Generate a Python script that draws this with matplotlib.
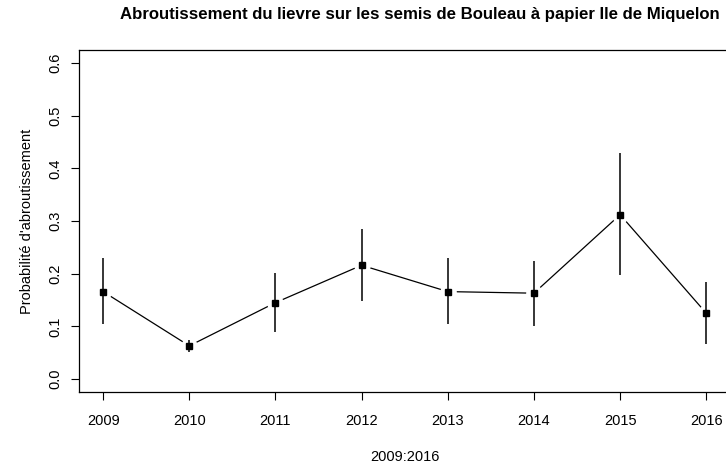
import matplotlib
matplotlib.use("Agg")
import matplotlib.pyplot as plt

# Estimated values
years = [2009, 2010, 2011, 2012, 2013, 2014, 2015, 2016]
prob = [0.166, 0.063, 0.145, 0.216, 0.166, 0.163, 0.312, 0.125]
lower = [0.104, 0.052, 0.090, 0.149, 0.104, 0.101, 0.197, 0.067]
upper = [0.230, 0.075, 0.202, 0.285, 0.230, 0.225, 0.429, 0.184]
yticks = [0.0, 0.1, 0.2, 0.3, 0.4, 0.5, 0.6]

plt.rcParams['font.family'] = ['Liberation Sans', 'DejaVu Sans']

fig = plt.figure(figsize=(7.26, 4.63), dpi=100)
# plot region runs a bit past the right edge, as in the original
ax = fig.add_axes([79 / 726, 1 - 391.7 / 463, 651.4 / 726, 341.4 / 463])

# type="b" style: line with gaps round the points
ax.plot(years, prob, color="black", lw=0.9, zorder=1)
ax.plot(years, prob, "o", ms=11, mfc="white", mec="white", zorder=2)
ax.vlines(years, lower, upper, color="black", lw=1.1, zorder=3)
ax.plot(years, prob, "s", ms=4.8, color="black", zorder=4)

ax.set_xlim(2009 - 0.28, 2016 + 0.28)
ax.set_ylim(-0.024, 0.624)
ax.set_xticks(years)
ax.set_yticks(yticks)
ax.set_yticklabels([f"{v:.1f}" for v in yticks], rotation=90, va="center")
ax.tick_params(labelsize=10.5, length=6, width=0.8, pad=6)
ax.tick_params(axis="x", pad=10)
ax.spines["right"].set_visible(False)
for s in ax.spines.values():
    s.set_linewidth(0.9)

ax.set_xlabel("2009:2016", fontsize=10.5, labelpad=16)
ax.set_ylabel("Probabilité d'abroutissement", fontsize=10.5, labelpad=10)
fig.text(420 / 726, 1 - 14 / 463, "Abroutissement du lievre sur les semis de Bouleau à papier Ile de Miquelon",
         ha="center", va="center", fontsize=12.1, fontweight="bold")

fig.savefig("out.png", dpi=100)
